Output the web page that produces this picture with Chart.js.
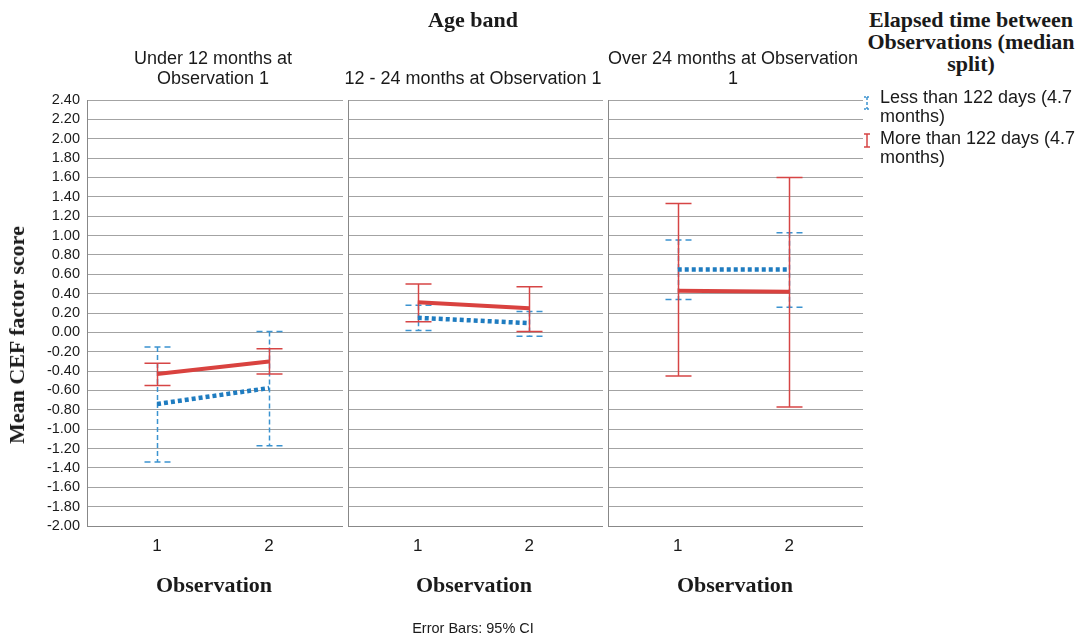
<!DOCTYPE html>
<html>
<head>
<meta charset="utf-8">
<script src="https://cdn.jsdelivr.net/npm/chart.js@4/dist/chart.umd.min.js"></script>
<style>
  html, body { margin:0; padding:0; background:#fff; width:1081px; height:639px; overflow:hidden; }
  #wrap { position:relative; width:1081px; height:639px; overflow:hidden; }
  .abs { position:absolute; white-space:nowrap; color:#1a1a1a; }
  .serif { font-family:"Liberation Serif","DejaVu Serif",serif; font-weight:bold; font-size:22px; }
  .sans { font-family:"Liberation Sans",Arial,sans-serif; }
  .c { transform:translate(-50%,-50%); text-align:center; }
  canvas { position:absolute; top:0; }
</style>
</head>
<body>
<div id="wrap">
  <canvas id="p0" width="343" height="639" style="left:0px"></canvas>
  <canvas id="p1" width="255" height="639" style="left:348px"></canvas>
  <canvas id="p2" width="255" height="639" style="left:608px"></canvas>

  <div class="abs serif c" style="left:473px; top:20px;">Age band</div>
  <div class="abs sans" id="h0" style="left:213px; top:68px; font-size:18px; line-height:20px; transform:translate(-50%,-50%); text-align:center;"></div>
  <div class="abs sans" id="h1" style="left:473px; top:78px; font-size:18px; line-height:20px; transform:translate(-50%,-50%); text-align:center;"></div>
  <div class="abs sans" id="h2" style="left:733px; top:68px; font-size:18px; line-height:20px; transform:translate(-50%,-50%); text-align:center;"></div>

  <div class="abs serif" style="left:17px; top:335px; transform:translate(-50%,-50%) rotate(-90deg);">Mean CEF factor score</div>

  <div class="abs serif c" style="left:214px; top:585px;">Observation</div>
  <div class="abs serif c" style="left:474px; top:585px;">Observation</div>
  <div class="abs serif c" style="left:735px; top:585px;">Observation</div>

  <div class="abs sans c" style="left:473px; top:628px; font-size:14.5px;">Error Bars: 95% CI</div>

  <div class="abs serif c" style="left:971px; top:42px; line-height:22px;">Elapsed time between<br>Observations (median<br>split)</div>

  <svg class="abs" style="left:860px; top:92px;" width="14" height="60" viewBox="0 0 14 60">
    <g stroke="#3b93d0" stroke-width="1.5" fill="none">
      <line x1="4" y1="5" x2="10" y2="5" stroke-dasharray="2,1"/>
      <line x1="7" y1="5" x2="7" y2="17" stroke-dasharray="3,2"/>
      <line x1="4" y1="17" x2="10" y2="17" stroke-dasharray="2,1"/>
    </g>
    <g stroke="#d64545" stroke-width="1.5" fill="none">
      <line x1="4" y1="42" x2="10" y2="42"/>
      <line x1="7" y1="42" x2="7" y2="55"/>
      <line x1="4" y1="55" x2="10" y2="55"/>
    </g>
  </svg>
  <div class="abs sans" id="lg0" style="left:880px; top:88px; font-size:18px; line-height:19px;"></div>
  <div class="abs sans" id="lg1" style="left:880px; top:129px; font-size:18px; line-height:19px;"></div>
</div>

<script>
// ---------- data ----------
const categories = [1, 2];
const panelTitles = [
  "Under 12 months at<br>Observation 1",
  "12 - 24 months at Observation 1",
  "Over 24 months at Observation<br>1"
];
const seriesNames = ["Less than 122 days (4.7<br>months)", "More than 122 days (4.7<br>months)"];
const yTicks = [-2.0,-1.8,-1.6,-1.4,-1.2,-1.0,-0.8,-0.6,-0.4,-0.2,0.0,0.2,0.4,0.6,0.8,1.0,1.2,1.4,1.6,1.8,2.0,2.2,2.4];

// Less than 122 days (blue, dotted)
const lessMean = [[-0.74, -0.575], [0.15, 0.095], [0.65, 0.65]];
const lessLow  = [[-1.34, -1.17], [0.02, -0.04], [0.34, 0.26]];
const lessHigh = [[-0.15, 0.01], [0.28, 0.215], [0.955, 1.03]];

// More than 122 days (red, solid)
const moreMean = [[-0.43, -0.30], [0.31, 0.25], [0.43, 0.42]];
const moreLow  = [[-0.55, -0.43], [0.11, 0.01], [-0.45, -0.77]];
const moreHigh = [[-0.32, -0.17], [0.50, 0.47], [1.33, 1.60]];

// ---------- styles ----------
const BLUE = '#1f7cc0', BLUE_ERR = '#3b93d0';
const RED = '#d9423f', RED_ERR = '#d64545';
const GRID = '#a3a3a3', AXIS = '#888888';

panelTitles.forEach((t, i) => document.getElementById('h' + i).innerHTML = t);
document.getElementById('lg0').innerHTML = seriesNames[0];
document.getElementById('lg1').innerHTML = seriesNames[1];

const errorBars = {
  id: 'errorBars',
  beforeDatasetsDraw(chart) {
    const ctx = chart.ctx, xs = chart.scales.x, ys = chart.scales.y;
    chart.data.datasets.forEach(ds => {
      ctx.save();
      ctx.strokeStyle = ds.errColor;
      ctx.lineWidth = 1.5;
      ds.data.forEach((p, i) => {
        const px = Math.round(xs.getPixelForValue(p.x)) + 0.5;
        const lo = ys.getPixelForValue(ds.lo[i]);
        const hi = ys.getPixelForValue(ds.hi[i]);
        const hw = 13;
        ctx.setLineDash(ds.errDash);
        ctx.beginPath();
        ctx.moveTo(px, hi); ctx.lineTo(px, lo);
        ctx.stroke();
        ctx.setLineDash(ds.capDash);
        ctx.beginPath();
        ctx.moveTo(px - hw, hi); ctx.lineTo(px + hw, hi);
        ctx.moveTo(px - hw, lo); ctx.lineTo(px + hw, lo);
        ctx.stroke();
      });
      ctx.restore();
    });
  }
};

function makePanel(i) {
  const showY = i === 0;
  const pts = arr => categories.map((c, k) => ({ x: c, y: arr[i][k] }));
  new Chart(document.getElementById('p' + i), {
    type: 'line',
    data: {
      datasets: [
        { data: pts(lessMean), lo: lessLow[i], hi: lessHigh[i],
          borderColor: BLUE, borderWidth: 4.5, borderDash: [4, 3], borderCapStyle: 'butt',
          pointRadius: 0, errColor: BLUE_ERR, errDash: [5, 3], capDash: [6, 4], order: 2 },
        { data: pts(moreMean), lo: moreLow[i], hi: moreHigh[i],
          borderColor: RED, borderWidth: 4, pointRadius: 0,
          errColor: RED_ERR, errDash: [], capDash: [], order: 1 }
      ]
    },
    options: {
      responsive: false, animation: false, events: [],
      layout: { padding: { top: 100, left: 0, right: 0, bottom: 0 } },
      plugins: { legend: { display: false }, tooltip: { enabled: false } },
      scales: {
        x: {
          type: 'linear', min: 0.375, max: 2.66,
          afterBuildTicks: s => { s.ticks = categories.map(v => ({ value: v })); },
          afterFit: s => { s.height = 113; },
          grid: { display: false, drawTicks: false },
          border: { display: true, color: AXIS, width: 1 },
          ticks: { color: '#1a1a1a', padding: 10, maxRotation: 0, autoSkip: false,
                   font: { family: 'Liberation Sans', size: 17 },
                   callback: v => String(v) }
        },
        y: {
          type: 'linear', min: -2, max: 2.4,
          afterBuildTicks: s => { s.ticks = yTicks.map(v => ({ value: v })); },
          afterFit: s => { s.width = showY ? 87 : 0; },
          grid: { color: GRID, lineWidth: 1, drawTicks: false },
          border: { display: true, color: AXIS, width: 1 },
          ticks: { display: showY, autoSkip: false, color: '#1a1a1a', padding: 7,
                   font: { family: 'Liberation Sans', size: 14.5 },
                   callback: v => (Math.abs(v) < 1e-9 ? 0 : v).toFixed(2) }
        }
      }
    },
    plugins: [errorBars]
  });
}
[0, 1, 2].forEach(makePanel);
</script>
</body>
</html>
